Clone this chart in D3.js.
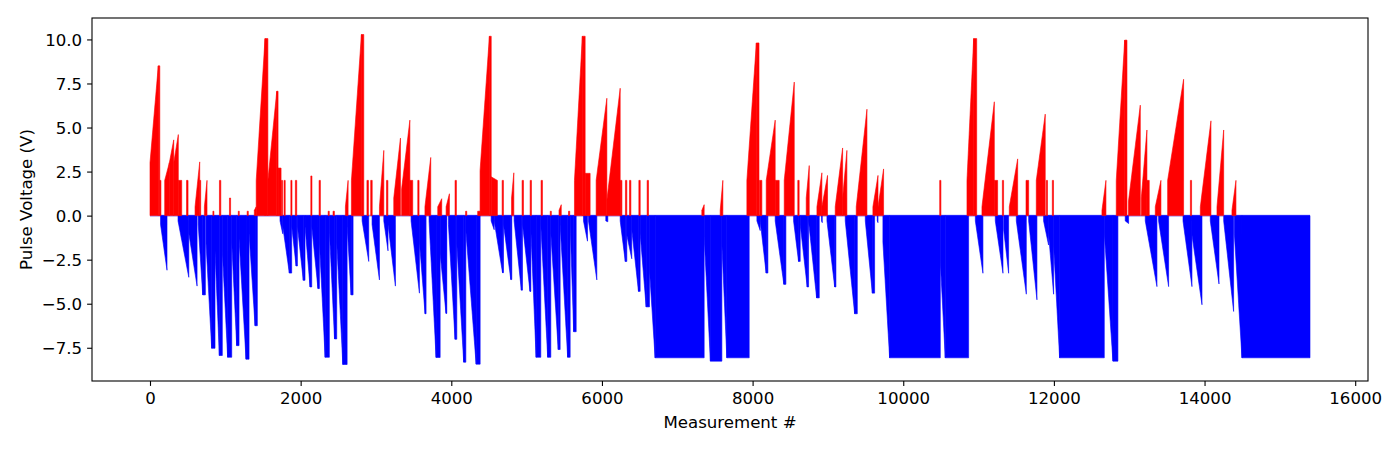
<!DOCTYPE html>
<html>
<head>
<meta charset="utf-8">
<script src="https://cdn.jsdelivr.net/npm/d3@7/dist/d3.min.js"></script>
<style>
  html, body { margin: 0; padding: 0; background: #ffffff; }
  svg { display: block; font-family: "DejaVu Sans", sans-serif; }
</style>
</head>
<body>
<svg id="chart" width="1400" height="450"></svg>
<script>
// Positive (red) pulse ramps: [startMeasurement, endMeasurement, startVolts, endVolts]
const positiveRamps = [
  [0,110,3.0,8.5],[110,130,8.5,8.5],[130,145,2.0,2.0],[195,257,2.0,3.0],[257,315,3.0,4.3],[315,376,3.0,4.6],
  [376,421,2.0,2.0],[485,505,2.0,2.0],[598,660,0.5,3.05],[660,673,2.0,2.0],[722,757,0.5,2.0],[835,848,0.25,0.25],
  [922,940,2.0,2.0],[1055,1070,1.0,1.0],[1172,1185,0.25,0.25],[1290,1305,0.25,0.25],[1385,1410,0.3,0.5],
  [1410,1527,2.0,10.05],[1527,1565,10.05,10.05],[1565,1683,2.0,7.06],[1683,1700,7.06,7.06],[1700,1740,2.7,2.7],
  [1745,1760,2.0,2.0],[1780,1795,2.0,2.0],[1870,1885,2.0,2.0],[1930,1948,2.0,2.0],[2135,2150,2.25,2.25],
  [2245,2262,2.0,2.0],[2365,2380,0.25,0.25],[2430,2448,0.25,0.25],[2594,2630,0.5,2.0],[2674,2807,2.0,10.28],
  [2807,2838,10.28,10.28],[2880,2900,2.0,2.0],[2930,2950,2.0,2.0],[3046,3104,0.5,3.7],[3140,3158,2.0,2.0],
  [3236,3325,1.0,4.4],[3340,3450,1.5,5.42],[3450,3488,2.0,2.0],[3555,3572,2.0,2.0],[3650,3727,0.5,3.3],
  [3820,3873,0.5,0.96],[3931,3975,0.5,1.24],[4050,4068,2.0,2.0],[4190,4205,0.25,0.25],[4350,4382,0.25,0.25],
  [4382,4506,2.56,10.18],[4506,4530,10.18,10.18],[4530,4612,2.2,2.0],[4675,4692,2.0,2.0],[4800,4830,1.0,2.43],
  [4940,4958,2.0,2.0],[5047,5064,2.0,2.0],[5192,5210,2.0,2.0],[5314,5328,0.25,0.25],[5430,5460,0.3,0.62],
  [5556,5572,0.25,0.25],[5635,5740,2.0,10.18],[5740,5777,10.18,10.18],[5777,5843,2.4,2.4],[5923,6065,2.0,6.66],
  [6065,6242,0.87,7.23],[6242,6265,2.0,2.0],[6312,6330,2.0,2.0],[6366,6384,2.0,2.0],[6490,6508,2.0,2.0],
  [6600,6618,2.0,2.0],[7326,7357,0.3,0.62],[7570,7605,0.3,2.0],[7924,8050,2.0,9.8],[8050,8085,9.8,9.8],
  [8092,8123,2.0,2.0],[8181,8300,2.0,5.42],[8300,8353,2.0,2.0],[8420,8553,2.0,7.58],[8600,8618,2.0,2.0],
  [8712,8752,1.0,2.84],[8854,8920,0.5,2.43],[8920,8995,0.5,2.28],[9097,9195,0.5,3.84],[9195,9252,1.0,3.7],
  [9376,9518,0.5,6.04],[9597,9665,0.5,2.28],[9665,9739,0.5,2.65],[10484,10500,2.0,2.0],[10846,10935,2.0,10.05],
  [10935,10975,10.05,10.05],[11045,11209,0.5,6.46],[11209,11253,2.0,2.0],[11316,11332,2.0,2.0],[11408,11519,0.5,3.22],
  [11630,11665,2.0,2.0],[11766,11885,2.0,5.76],[11899,11915,2.0,2.0],[11979,11995,2.0,2.0],[12638,12691,0.3,2.0],
  [12828,12940,2.0,9.96],[12940,12970,9.96,9.96],[12990,13147,0.8,6.27],[13160,13235,1.0,4.86],[13235,13266,2.0,2.0],
  [13346,13421,0.5,2.0],[13510,13722,2.0,7.74],[13812,13828,2.0,2.0],[13944,14085,0.5,5.38],[14165,14254,0.5,4.86],
  [14364,14417,0.3,2.0]
];

// Negative (blue) pulse ramps: [startMeasurement, endMeasurement, startVolts, endVolts]
const negativeRamps = [
  [140,226,-0.5,-3.1],[372,515,-0.3,-3.5],[515,625,-1.0,-4.0],[640,700,-0.5,-4.5],[700,735,-4.5,-4.5],
  [744,819,-1.6,-7.53],[819,863,-7.53,-7.53],[863,921,-2.0,-7.94],[921,960,-7.94,-7.94],[960,1031,-2.0,-8.04],
  [1031,1085,-8.04,-8.04],[1085,1151,-1.5,-7.38],[1151,1182,-7.38,-7.38],[1182,1275,-1.3,-8.15],[1275,1315,-8.15,-8.15],
  [1315,1395,-1.0,-6.25],[1395,1425,-6.25,-6.25],
  [1726,1762,-0.3,-1.03],[1762,1850,-0.6,-3.26],[1850,1881,-3.26,-3.26],[1881,1940,-0.6,-2.86],[1940,1957,-2.86,-2.86],
  [1957,2035,-0.6,-3.67],[2035,2058,-3.67,-3.67],[2058,2125,-0.6,-4.05],[2125,2147,-4.05,-4.05],[2147,2230,-0.6,-4.14],
  [2230,2249,-4.14,-4.14],[2249,2325,-1.5,-8.04],[2325,2381,-8.04,-8.04],[2381,2450,-0.8,-7.0],[2450,2479,-7.0,-7.0],
  [2479,2560,-1.5,-8.45],[2560,2617,-8.45,-8.45],[2617,2670,-0.6,-4.5],[2670,2696,-4.5,-4.5],
  [2816,2904,-0.3,-2.6],[2948,3046,-0.5,-3.65],[3104,3160,-0.3,-2.0],[3160,3258,-0.5,-4.0],
  [3466,3577,-0.3,-4.4],[3577,3652,-1.5,-5.57],[3652,3665,-5.57,-5.57],[3705,3798,-0.3,-8.05],[3798,3852,-8.05,-8.05],
  [3852,3930,-2.16,-5.55],[3930,3940,-5.55,-5.55],[3962,4050,-0.5,-7.02],[4050,4073,-7.02,-7.02],[4073,4165,-1.6,-8.32],
  [4165,4193,-8.32,-8.32],[4193,4330,-0.85,-8.43],[4330,4383,-8.43,-8.43],[4529,4569,-0.3,-0.8],[4569,4680,-0.3,-3.24],
  [4680,4693,-3.24,-3.24],[4693,4790,-0.5,-3.63],[4790,4803,-3.63,-3.63],[4834,4930,-0.3,-4.23],[4930,4945,-4.23,-4.23],
  [4945,5045,-0.5,-4.3],[5045,5056,-4.3,-4.3],[5056,5126,-0.8,-8.04],[5126,5188,-8.04,-8.04],[5188,5280,-0.5,-8.04],
  [5280,5321,-8.04,-8.04],[5321,5420,-1.0,-7.6],[5420,5445,-7.6,-7.6],[5445,5545,-0.5,-8.04],[5545,5578,-8.04,-8.04],
  [5578,5625,-0.5,-6.59],[5625,5658,-6.59,-6.59],
  [5755,5808,-0.3,-1.45],[5821,5932,-0.3,-3.65],[6051,6078,-0.3,-0.35],[6242,6310,-0.3,-2.6],[6310,6330,-2.6,-2.6],
  [6330,6396,-1.1,-2.45],[6396,6485,-0.8,-4.3],[6485,6507,-4.3,-4.3],[6507,6587,-1.0,-5.18],[6587,6631,-5.18,-5.18],
  [6631,6706,-3.1,-8.07],[6706,7357,-8.07,-8.07],[7357,7440,-1.2,-8.26],[7440,7592,-8.26,-8.26],[7592,7658,-1.6,-8.07],
  [7658,7955,-8.07,-8.07],[8057,8101,-0.3,-0.85],[8101,8180,-0.3,-3.26],[8180,8203,-3.26,-3.26],[8300,8415,-0.3,-3.9],
  [8415,8442,-3.9,-3.9],[8544,8610,-0.3,-2.6],[8610,8632,-2.6,-2.6],[8632,8725,-0.5,-4.05],[8725,8743,-4.05,-4.05],
  [8743,8850,-0.3,-4.67],[8850,8885,-4.67,-4.67],[8915,8925,-0.3,-0.4],[8987,9090,-0.3,-4.05],[9090,9106,-4.05,-4.05],
  [9230,9355,-0.3,-5.57],[9355,9390,-5.57,-5.57],[9496,9590,-0.3,-4.4],[9590,9620,-4.4,-4.4],[9655,9665,-0.3,-0.4],
  [9730,9819,-1.5,-8.07],[9819,10492,-8.07,-8.07],[10492,10558,-2.6,-8.07],[10558,10868,-8.07,-8.07],
  [10957,11058,-0.3,-3.27],[11222,11324,-0.3,-3.27],[11333,11399,-0.8,-3.27],[11501,11634,-0.3,-4.46],[11665,11775,-0.3,-4.78],
  [11863,11929,-0.3,-1.67],[11929,11996,-1.0,-4.46],[11996,12076,-1.7,-8.07],[12076,12669,-8.07,-8.07],[12669,12784,-1.0,-8.26],
  [12784,12850,-8.26,-8.26],[12947,12992,-0.3,-0.45],[13213,13368,-0.3,-4.03],[13390,13523,-0.3,-4.03],[13714,13833,-0.3,-4.03],
  [13833,13966,-1.1,-5.06],[14076,14192,-0.3,-3.88],[14254,14386,-0.3,-5.44],[14395,14497,-1.0,-8.07],[14497,15400,-8.07,-8.07]
];

// Measurement range of the whole record
const measurementRange = [0, 15400];
const xTicks = [0, 2000, 4000, 6000, 8000, 10000, 12000, 14000, 16000];
const yTicks = [-7.5, -5.0, -2.5, 0.0, 2.5, 5.0, 7.5, 10.0];
const xLabel = "Measurement #";
const yLabel = "Pulse Voltage (V)";

// ---- LAYOUT ----
const margin = { left: 92, right: 32, top: 18, bottom: 69 };
const W = 1400, H = 450;
const svg = d3.select("#chart");

const allV = positiveRamps.flatMap(r => [r[2], r[3]]).concat(negativeRamps.flatMap(r => [r[2], r[3]]));
const vMin = d3.min(allV), vMax = d3.max(allV);
const xPad = (measurementRange[1] - measurementRange[0]) * 0.05;
const yPad = (vMax - vMin) * 0.05;

const x = d3.scaleLinear()
  .domain([measurementRange[0] - xPad, measurementRange[1] + xPad])
  .range([margin.left, W - margin.right]);
const y = d3.scaleLinear()
  .domain([vMin - yPad, vMax + yPad])
  .range([H - margin.bottom, margin.top]);

const plot = svg.append("g");

// baseline of zero-height bars
plot.append("line")
  .attr("x1", x(measurementRange[0])).attr("x2", x(measurementRange[1]))
  .attr("y1", y(0)).attr("y2", y(0))
  .attr("stroke", "#0000ff").attr("stroke-opacity", 0.45).attr("stroke-width", 1.6);

function rampPath(r) {
  return "M" + x(r[0]) + "," + y(0) +
         "L" + x(r[0]) + "," + y(r[2]) +
         "L" + x(r[1]) + "," + y(r[3]) +
         "L" + x(r[1]) + "," + y(0) + "Z";
}

plot.append("g").selectAll("path").data(negativeRamps).join("path")
  .attr("d", rampPath).attr("fill", "#0000ff")
  .attr("stroke", "#0000ff").attr("stroke-width", 0.6);

plot.append("g").selectAll("path").data(positiveRamps).join("path")
  .attr("d", rampPath).attr("fill", "#ff0000")
  .attr("stroke", "#ff0000").attr("stroke-width", 0.6);

// ---- AXES ----
const fmtY = d3.format(".1f");
const xAxis = svg.append("g")
  .attr("transform", `translate(0,${H - margin.bottom})`)
  .call(d3.axisBottom(x).tickValues(xTicks).tickFormat(d3.format("d")).tickSize(4.9).tickPadding(5));
const yAxis = svg.append("g")
  .attr("transform", `translate(${margin.left},0)`)
  .call(d3.axisLeft(y).tickValues(yTicks).tickFormat(fmtY).tickSize(4.9).tickPadding(5));

[xAxis, yAxis].forEach(a => {
  a.select(".domain").remove();
  a.selectAll(".tick line").attr("stroke", "#000").attr("stroke-width", 1.1);
  a.selectAll(".tick text").attr("fill", "#000")
    .style("font-family", "'DejaVu Sans', sans-serif").style("font-size", "16.6px");
});
xAxis.selectAll(".tick text").attr("dy", "0.76em");
yAxis.selectAll(".tick text").attr("dy", "0.36em");

// frame
svg.append("rect")
  .attr("x", margin.left).attr("y", margin.top)
  .attr("width", W - margin.left - margin.right)
  .attr("height", H - margin.top - margin.bottom)
  .attr("fill", "none").attr("stroke", "#000").attr("stroke-width", 1.1);

svg.append("text")
  .attr("x", (margin.left + W - margin.right) / 2).attr("y", 428)
  .attr("text-anchor", "middle")
  .style("font-size", "16.6px").attr("fill", "#000")
  .text(xLabel);

svg.append("text")
  .attr("transform", `translate(32,${(margin.top + H - margin.bottom) / 2}) rotate(-90)`)
  .attr("text-anchor", "middle")
  .style("font-size", "16.6px").attr("fill", "#000")
  .text(yLabel);
</script>
</body>
</html>
